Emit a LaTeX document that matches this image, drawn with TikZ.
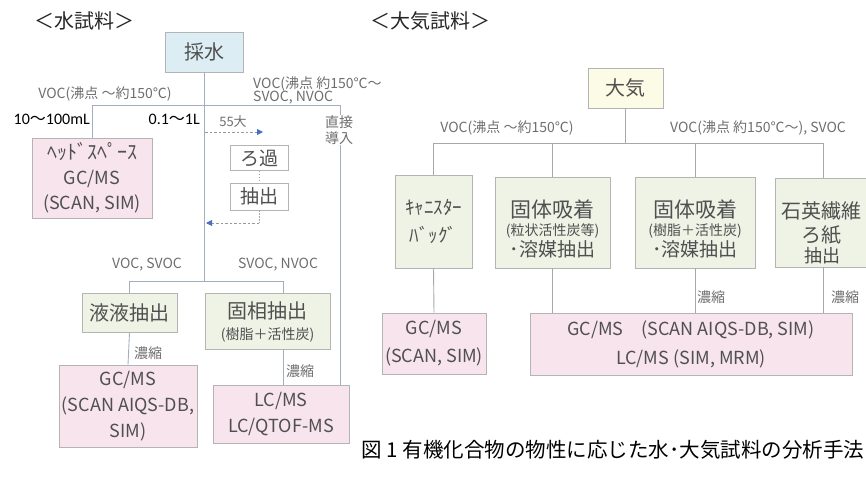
\documentclass[tikz,border=0pt]{standalone}
\usepackage{fontspec}
\setmainfont{Noto Sans CJK JP}
\newfontfamily\latf{Carlito}
\usetikzlibrary{arrows.meta}
\definecolor{linec}{HTML}{A3AFBF}
\definecolor{aline}{HTML}{A8A8A8}
\definecolor{bord}{HTML}{B4B4B4}
\definecolor{pinkf}{HTML}{F7E4EC}
\definecolor{greenf}{HTML}{EEF3E6}
\definecolor{cyanf}{HTML}{DCEEF3}
\definecolor{yelf}{HTML}{FBFBE6}
\definecolor{txtg}{HTML}{505050}
\definecolor{lblg}{HTML}{6E6E6E}
\definecolor{arrb}{HTML}{4A6FC0}
\newcommand{\myfs}[2]{\fontsize{#1}{#2}\selectfont}
\begin{document}
\begin{tikzpicture}[x=1pt,y=-1pt,
  bx/.style={draw=bord, line width=0.9pt, inner sep=0pt, align=center, text=txtg},
  pinkbox/.style={bx, fill=pinkf},
  greenbox/.style={bx, fill=greenf},
  cyanbox/.style={bx, fill=cyanf},
  yelbox/.style={bx, fill=yelf},
  whitebox/.style={bx, fill=white},
  intext/.style={text=txtg, inner sep=0pt},
  conn/.style={draw=linec, line width=0.9pt},
  aconn/.style={draw=aline, line width=0.9pt},
  lbl/.style={text=lblg, inner sep=1pt, font=\myfs{14}{16}},
  dasharr/.style={draw=lblg!70, line width=0.9pt, dash pattern=on 2.5pt off 2pt, -{Triangle[length=6pt,width=6pt,color=arrb]}},
  dotl/.style={draw=lblg!60, line width=0.8pt, dash pattern=on 1.5pt off 1.5pt},
  ttl/.style={text=black!85, inner sep=0pt, font=\myfs{20}{22}},
  mlabel/.style={text=black, inner sep=0pt, font=\latf\myfs{16}{18}}
]
\useasboundingbox (0,0) rectangle (866,477);

% titles
\node[ttl] (t1) at (84,21) {＜水試料＞};
\node[ttl] (t2) at (430,21) {＜大気試料＞};

% ---------------- water ----------------
\node[cyanbox, minimum width=78, minimum height=40, font=\myfs{20}{24}] (saisui) at (204,52) {採水};
\node[pinkbox, minimum width=120, minimum height=80, font=\myfs{18}{25}] (hs) at (92,178) {\myfs{20}{25}ﾍｯﾄﾞｽﾍﾟｰｽ\\\myfs{18}{25}GC/MS\\(SCAN, SIM)};
\node[whitebox, minimum width=58, minimum height=25, font=\myfs{19}{22}] (roka) at (259,158) {ろ過};
\node[whitebox, minimum width=58, minimum height=27, font=\myfs{19}{22}] (chu) at (259,196.5) {抽出};
\node[greenbox, minimum width=95, minimum height=39, font=\myfs{20}{24}] (eki) at (129.5,312.5) {液液抽出};
\node[greenbox, minimum width=125, minimum height=56] (koso) at (267.5,321) {};
\node[intext, font=\myfs{20}{22}] (kosot1) at (267.5,311) {固相抽出};
\node[intext, font=\myfs{14}{16}] (kosot2) at (267.5,335) {(樹脂＋活性炭)};
\node[pinkbox, minimum width=138, minimum height=82, font=\myfs{18}{26}] (wgc) at (128,406) {GC/MS\\(SCAN AIQS-DB,\\SIM)};
\node[pinkbox, minimum width=136, minimum height=58, font=\myfs{18}{25}] (wlc) at (281,414) {LC/MS\\LC/QTOF-MS};

\coordinate (wl) at (92,105);
\coordinate (wr) at (340,105);
\coordinate (wb) at (204,281);
\coordinate (wbl) at (129.5,281);
\coordinate (wbr) at (283,281);
\draw[conn] (saisui.south) -- (wb);
\draw[conn] (wl) -- (wr);
\draw[conn] (wl) -- (hs.north);
\draw[conn] (wr) -- (wr |- wlc.north);
\draw[conn] (wbl) -- (wbr);
\draw[conn] (wbl) -- (eki.north);
\draw[conn] (wbr) -- (wbr |- koso.north);
\draw[conn] (eki.south) -- (wgc.north);
\draw[conn] (wbr |- koso.south) -- (wbr |- wlc.north);

\node[lbl] (lw1) at (105,94) {VOC(沸点 ～約150℃)};
\node[lbl, anchor=west] (lw2) at (252,84) {VOC(沸点 約150℃～};
\node[lbl, anchor=west] (lw3) at (252,98) {SVOC, NVOC};
\node[mlabel, anchor=east] (ml1) at (90,119) {10\textrm{～}100mL};
\node[mlabel, anchor=east] (ml2) at (200,119) {0.1\textrm{～}1L};
\node[lbl, fill=white, align=center, font=\myfs{14}{16}] (direct) at (339,130) {直接\\導入};
\node[lbl] (lw4) at (147,265) {VOC, SVOC};
\node[lbl] (lw5) at (278,265) {SVOC, NVOC};
\node[lbl] (nw1) at (148,353) {濃縮};
\node[lbl] (nw2) at (300,371) {濃縮};

% SS dashed arrows
\coordinate (s0) at (205,132);
\coordinate (s1) at (263,132);
\node[lbl, font=\myfs{13}{15}] (ss) at (233,122) {55大};
\draw[dasharr] (s0) -- (s1);
\draw[dotl] (roka.south) -- (chu.north);
\coordinate (r0) at (259,223);
\coordinate (r1) at (206,223);
\draw[dotl] (chu.south) -- (r0);
\draw[dasharr] (r0) -- (r1);

% ---------------- air ----------------
\node[yelbox, minimum width=75, minimum height=40, font=\myfs{20}{24}] (taiki) at (625.5,88) {大気};
\node[greenbox, minimum width=77, minimum height=93, font=\myfs{19}{28}] (can) at (433.5,221.5) {ｷｬﾆｽﾀｰ\\ﾊﾞｯｸﾞ};
\node[greenbox, minimum width=115, minimum height=91] (ad1) at (552.5,222.5) {};
\node[intext, font=\myfs{21}{24}] (ad1a) at (552.5,210) {固体吸着};
\node[intext, font=\myfs{14}{16}] (ad1b) at (552.5,231) {(粒状活性炭等)};
\node[intext, font=\myfs{19}{22}] (ad1c) at (552.5,249) {･溶媒抽出};
\node[greenbox, minimum width=120, minimum height=91] (ad2) at (695,222.5) {};
\node[intext, font=\myfs{21}{24}] (ad2a) at (695,210) {固体吸着};
\node[intext, font=\myfs{14}{16}] (ad2b) at (695,231) {(樹脂＋活性炭)};
\node[intext, font=\myfs{19}{22}] (ad2c) at (695,249) {･溶媒抽出};
\node[greenbox, minimum width=96, minimum height=89] (qz) at (823,222.5) {};
\node[intext, font=\myfs{20}{22}] (qza) at (821,211) {石英繊維};
\node[intext, font=\myfs{20}{22}] (qzb) at (821,235) {ろ紙};
\node[text=black!70, inner sep=0pt, font=\myfs{18}{20}] (qze) at (822,256) {抽出};
\node[pinkbox, minimum width=104, minimum height=61, font=\myfs{18}{28}] (agc) at (434,343.5) {GC/MS\\(SCAN, SIM)};
\node[pinkbox, minimum width=322, minimum height=62, font=\myfs{18}{29}] (abig) at (691,344) {GC/MS　(SCAN AIQS-DB, SIM)\\LC/MS (SIM, MRM)};

\coordinate (aj) at (625.5,143);
\coordinate (ab1) at (433.5,143);
\coordinate (ab2) at (552.5,143);
\coordinate (ab3) at (695,143);
\coordinate (ab4) at (823,143);
\draw[aconn] (taiki.south) -- (aj);
\draw[aconn] (ab1) -- (ab4);
\draw[aconn] (ab1) -- (can.north);
\draw[aconn] (ab2) -- (ad1.north);
\draw[aconn] (ab3) -- (ad2.north);
\draw[aconn] (ab4) -- (qz.north);
\draw[aconn] (can.south) -- (agc.north);
\draw[aconn] (ad1.south) -- (ad1.south |- abig.north);
\draw[aconn] (ad2.south) -- (ad2.south |- abig.north);
\draw[aconn] (qz.south) -- (qz.south |- abig.north);

\node[lbl] (la1) at (507,128) {VOC(沸点 ～約150℃)};
\node[lbl] (la2) at (758,128) {VOC(沸点 約150℃～), SVOC};
\node[lbl] (na1) at (711,297) {濃縮};
\node[lbl] (na2) at (845,297) {濃縮};

% caption
\node[text=black, inner sep=0pt, font=\myfs{20.5}{22}] (cap) at (613,450) {図 1 有機化合物の物性に応じた水･大気試料の分析手法};
\end{tikzpicture}
\end{document}
